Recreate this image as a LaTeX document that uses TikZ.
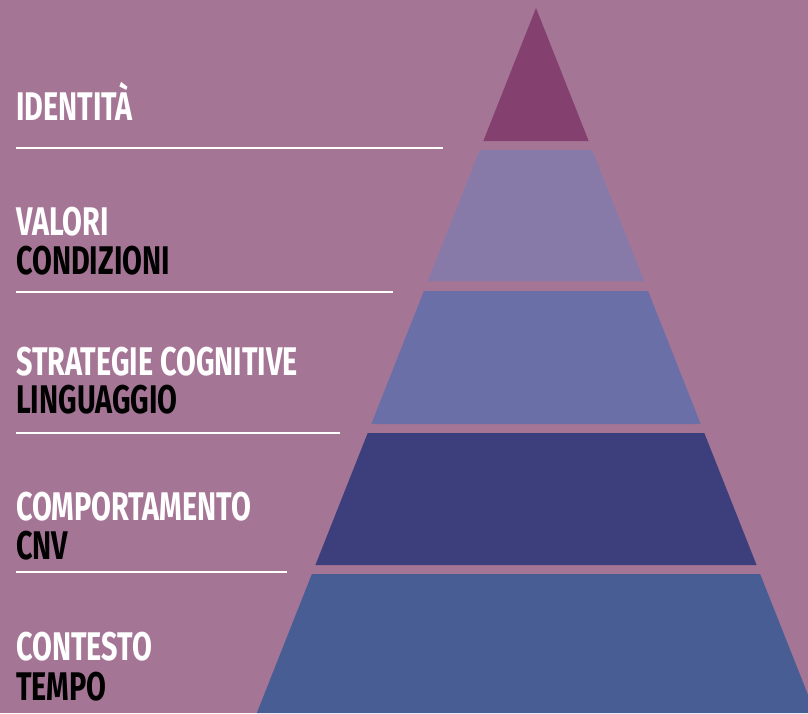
\documentclass[tikz,border=0pt]{standalone}
\usepackage{fontspec}
\setmainfont{Fira Sans}
\newfontfamily\labelfont[FakeStretch=0.72]{Fira Sans}

\definecolor{bgpurple}{HTML}{A57596}
\definecolor{layerA}{HTML}{84406F}
\definecolor{layerB}{HTML}{877AA8}
\definecolor{layerC}{HTML}{6B6FA8}
\definecolor{layerD}{HTML}{3D3F7C}
\definecolor{layerE}{HTML}{485D94}

\tikzset{
  upper/.style={font=\labelfont\bfseries\fontsize{40}{40}\selectfont,
    text=white, anchor=base west, inner sep=0pt},
  lower/.style={upper, text=black},
  rule/.style={white, line width=1.6pt}
}

\begin{document}
\begin{tikzpicture}[x=1pt, y=-1pt]

  \def\slope{0.396} % half width per unit of height
  \def\apx{536}
  \def\apy{8}

  % background
  \fill[bgpurple] (0,0) rectangle (808,713);
  \useasboundingbox (0,0) rectangle (808,713);
  \clip (0,0) rectangle (808,713);

  % pyramid layers
  \foreach \ya/\yb/\col in {8/141/layerA, 150/281/layerB, 291/424/layerC,
                            433/565/layerD, 574/713/layerE}
    \fill[\col] ({\apx-\slope*(\ya-\apy)},\ya) -- ({\apx+\slope*(\ya-\apy)},\ya)
      -- ({\apx+\slope*(\yb-\apy)},\yb) -- ({\apx-\slope*(\yb-\apy)},\yb) -- cycle;

  % labels
  \node[upper] (identita) at (16,120) {IDENTITÀ};

  \node[upper] (valori) at (16,235) {VALORI};
  \node[lower] (condizioni) at (16,274) {CONDIZIONI};

  \node[upper] (strategie) at (16,375) {STRATEGIE COGNITIVE};
  \node[lower] (linguaggio) at (16,413) {LINGUAGGIO};

  \node[upper] (comportamento) at (16,520) {COMPORTAMENTO};
  \node[lower] (cnv) at (16,559) {CNV};

  \node[upper] (contesto) at (16,660) {CONTESTO};
  \node[lower] (tempo) at (16,700) {TEMPO};

  % separator rules
  \draw[rule] (16,148) -- (443,148);
  \draw[rule] (16,292) -- (393,292);
  \draw[rule] (16,433) -- (340,433);
  \draw[rule] (16,572) -- (287,572);

\end{tikzpicture}
\end{document}
